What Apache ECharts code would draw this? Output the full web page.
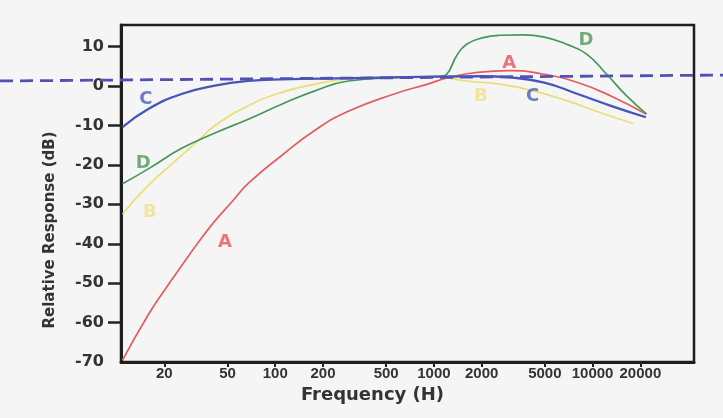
<!DOCTYPE html>
<html>
<head>
<meta charset="utf-8">
<script src="https://cdn.jsdelivr.net/npm/echarts@6/dist/echarts.min.js"></script>
<style>
html,body{margin:0;padding:0;background:#f5f5f5;}
#c{width:723px;height:418px;}
</style>
</head>
<body>
<div id="c"></div>
<script>
// ---- data ----
const tickFreqs = [20, 50, 100, 200, 500, 1000, 2000, 5000, 10000, 20000];
const yTickLabels = [-70, -60, -50, -40, -30, -20, -10, 0, 10];

const aFreq = [10.9, 15.85, 20.2, 25.7, 32.7, 41.7, 53.2, 67.6, 109.8, 178, 288.6, 562, 913, 1191, 1886, 3000, 4960, 8050, 13050, 21680];
const aDb   = [-69.5, -58.0, -51.6, -45.6, -39.7, -34.2, -29.4, -24.7, -17.6, -11.2, -6.4, -2.0, 0.5, 2.0, 3.5, 3.9, 3.0, 0.9, -2.5, -7.1];

const bFreq = [10.9, 15.85, 25.7, 34.4, 41.7, 67.6, 109.8, 178, 288.6, 550, 1000, 1608, 2606, 4227, 6863, 11120, 18040];
const bDb   = [-32.5, -25.2, -17.6, -13.0, -10.0, -5.0, -1.6, 0.5, 1.8, 2.2, 2.4, 1.3, 0.5, -1.2, -3.7, -6.7, -9.5];

const cFreq = [10.9, 15.85, 25.7, 41.7, 67.6, 110, 300, 1000, 2000, 3000, 4960, 8050, 13050, 21680];
const cDb   = [-10.4, -5.8, -2.0, 0.1, 1.3, 1.7, 2.0, 2.4, 2.5, 2.2, 0.9, -2.0, -5.0, -7.9];

const dFreq = [10.9, 15.85, 25.7, 41.7, 67.6, 109.8, 178, 288.6, 600, 1100, 1203, 1391, 1608, 2046, 2606, 3656, 4887, 6863, 9174, 12260, 16390, 21900];
const dDb   = [-24.8, -21.0, -15.8, -11.9, -8.4, -4.6, -1.2, 1.3, 2.2, 2.5, 3.0, 7.7, 10.6, 12.3, 12.9, 13.0, 12.5, 10.6, 8.1, 3.0, -2.5, -7.1];

// reference dashed line (spans the whole picture width)
const refPos = [0, 1];
const refDb  = [1.3, 2.8];

// curve name labels
const labelNames = ['A', 'A', 'B', 'B', 'C', 'C', 'D', 'D'];
const labelFreq  = [48.2, 2985, 16.2, 1977, 15.3, 4190, 14.7, 9080];
const labelDb    = [-39.6, 5.8, -31.95, -2.7, -3.3, -2.7, -19.5, 11.7];

// ---- chart ----
const FONT = 'DejaVu Sans';
const lg = v => Math.log10(v);
const pairs = (fs, ds) => fs.map((f, i) => [lg(f), ds[i]]);

const colors = { A: '#e35d5f', B: '#e9de72', C: '#4656b8', D: '#46975c' };
const labelColors = { A: '#e4575a', B: '#eee18a', C: '#4a5cbb', D: '#4d9a5e' };

const curveSeries = (name, fs, ds, w) => ({
  type: 'line', name, xAxisIndex: 0, yAxisIndex: 0,
  data: pairs(fs, ds), smooth: 0.5, showSymbol: false, symbol: 'none',
  lineStyle: { color: colors[name], width: w }, z: 3, silent: true
});

const labelSeries = ['A', 'B', 'C', 'D'].map(n => ({
  type: 'scatter', name: 'lbl' + n, xAxisIndex: 0, yAxisIndex: 0,
  symbolSize: 2, itemStyle: { color: 'rgba(0,0,0,0)' }, silent: true, z: 6,
  data: labelNames.map((ln, i) => ln === n ? [lg(labelFreq[i]), labelDb[i]] : null).filter(Boolean),
  label: {
    show: true, position: 'inside', formatter: n,
    fontFamily: FONT, fontWeight: 'bold', fontSize: 18, color: labelColors[n]
  }
}));

const chart = echarts.init(document.getElementById('c'), null, { renderer: 'canvas' });
chart.setOption({
  animation: false,
  backgroundColor: '#f5f5f5',
  grid: [
    { left: 121, right: 29, top: 25, bottom: 56, show: true, borderColor: '#1e1e1e', borderWidth: 2.5, backgroundColor: 'transparent' },
    { left: 0, right: 0, top: 25, bottom: 56, show: false }
  ],
  xAxis: [
    {
      type: 'value', gridIndex: 0, min: 1.028, max: 4.639,
      axisLine: { show: true, onZero: false, lineStyle: { color: '#1e1e1e', width: 3 } },
      axisTick: { show: true, customValues: tickFreqs.map(lg), length: 5, lineStyle: { color: '#222', width: 2 } },
      axisLabel: {
        show: true, customValues: tickFreqs.map(lg), margin: 4,
        showMinLabel: true, showMaxLabel: true, hideOverlap: false,
        formatter: v => String(Math.round(Math.pow(10, v))),
        fontFamily: 'Liberation Sans', fontWeight: 'bold', fontSize: 15, color: '#333'
      },
      splitLine: { show: false },
      name: 'Frequency (H)', nameLocation: 'middle', nameGap: 24,
      nameTextStyle: { fontFamily: FONT, fontWeight: 'bold', fontSize: 18, color: '#333', padding: [0, 70, 0, 0] }
    },
    { type: 'value', gridIndex: 1, min: 0, max: 1, show: false }
  ],
  yAxis: [
    {
      type: 'value', gridIndex: 0, min: -70, max: 15.5,
      axisLine: { show: true, onZero: false, lineStyle: { color: '#1e1e1e', width: 3 } },
      axisTick: { show: true, customValues: yTickLabels.filter(v => v > -70), length: 13, lineStyle: { color: '#222', width: 2.5 } },
      axisLabel: {
        show: true, customValues: yTickLabels, margin: 17,
        showMinLabel: true, showMaxLabel: true,
        fontFamily: FONT, fontWeight: 'bold', fontSize: 16, color: '#333'
      },
      splitLine: { show: false },
      name: 'Relative Response (dB)', nameLocation: 'middle', nameGap: 63, nameRotate: 90,
      nameTextStyle: { fontFamily: FONT, fontWeight: 'bold', fontSize: 15, color: '#333', padding: [0, 73, 0, 0] }
    },
    { type: 'value', gridIndex: 1, min: -70, max: 15.5, show: false }
  ],
  series: [
    curveSeries('A', aFreq, aDb, 1.7),
    curveSeries('B', bFreq, bDb, 1.7),
    curveSeries('D', dFreq, dDb, 1.7),
    curveSeries('C', cFreq, cDb, 2.3),
    {
      type: 'line', name: 'ref', xAxisIndex: 1, yAxisIndex: 1,
      data: refPos.map((p, i) => [p, refDb[i]]), showSymbol: false, symbol: 'none',
      lineStyle: { color: '#5151b5', width: 2.8, type: [13, 7] }, z: 5, silent: true
    },
    ...labelSeries
  ]
});
</script>
</body>
</html>
